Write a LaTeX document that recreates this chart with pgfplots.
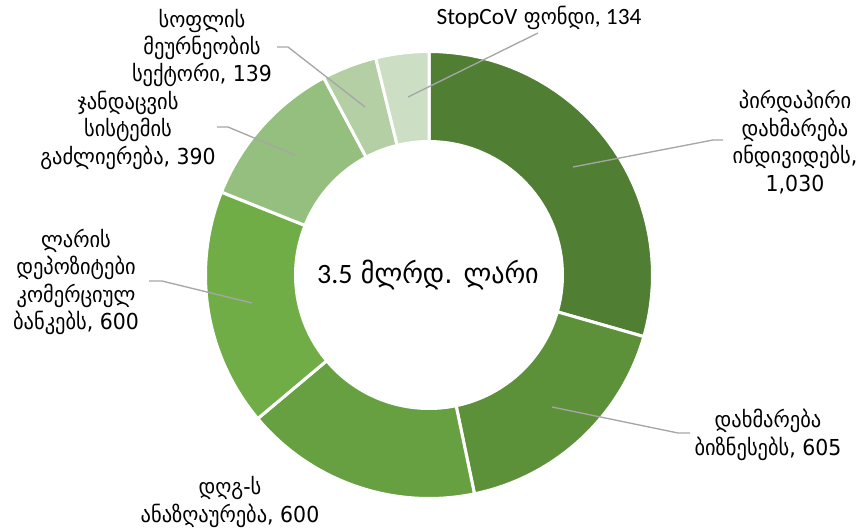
\documentclass[border=0pt]{standalone}
\usepackage{pgfplots}
\pgfplotsset{compat=1.18}
\usepackage{fontspec}
\setmainfont[FakeStretch=0.93]{DejaVu Sans}
\newfontfamily\carl{Carlito}
\definecolor{c1}{HTML}{507E32}
\definecolor{c2}{HTML}{5C913A}
\definecolor{c3}{HTML}{66A040}
\definecolor{c4}{HTML}{70AD47}
\definecolor{c5}{HTML}{95BF7E}
\definecolor{c6}{HTML}{B4CFA3}
\definecolor{c7}{HTML}{CCDEC3}
\definecolor{lead}{HTML}{A6A6A6}
% slice: #1 = cumulative start value, #2 = value, #3 = colour
\newcommand\slice[3]{%
  \addplot[fill=#3, draw=white, line width=2.25pt, variable=\t,
    samples at={0,0.025,...,1,2,2.025,...,3,3.5}]
   ({429+rr(\t)*cos(90-360*(#1+#2*fr(\t))/3498)},
    {275-rr(\t)*sin(90-360*(#1+#2*fr(\t))/3498)}) -- cycle;}
\begin{document}
\begin{tikzpicture}[lbl/.style={align=center, font=\fontsize{16.5}{20.6}\selectfont, text=black, inner sep=0pt}]
\begin{axis}[
  scale only axis, width=648pt, height=396.75pt,
  xmin=0, xmax=864, ymin=0, ymax=529, y dir=reverse,
  hide axis, clip=false,
  declare function={fr(\t)=(\t<1.5)*\t+(\t>1.5)*(\t<3.2)*(3-\t);
                    rr(\t)=133.5+90*((\t<1.5)+(\t>3.2));},
]
\slice{0}{1030}{c1}
\slice{1030}{605}{c2}
\slice{1635}{600}{c3}
\slice{2235}{600}{c4}
\slice{2835}{390}{c5}
\slice{3225}{139}{c6}
\slice{3364}{134}{c7}
% leader lines
\addplot[lead, line width=1pt] coordinates {(573,167)(713,140)(723,140)};
\addplot[lead, line width=1pt] coordinates {(552,407)(678,433)(690,433)};
\addplot[lead, line width=1pt] coordinates {(252,303)(162,281)(149,281)};
\addplot[lead, line width=1pt] coordinates {(295,155)(228,127)(217,127)};
\addplot[lead, line width=1pt] coordinates {(365,107)(288,47)(277,47)};
\addplot[lead, line width=1pt] coordinates {(408,97)(538,33)};
% labels
\node[lbl] at (axis cs:795,142) {პირდაპირი\\დახმარება\\ინდივიდებს,\\1,030};
\node[lbl] at (axis cs:768,435) {დახმარება\\ბიზნესებს, 605};
\node[lbl] at (axis cs:230,502) {დღგ-ს\\ანაზღაურება, 600};
\node[lbl] at (axis cs:76,282) {ლარის\\დეპოზიტები\\კომერციულ\\ბანკებს, 600};
\node[lbl] at (axis cs:128,130) {ჯანდაცვის\\სისტემის\\გაძლიერება, 390};
\node[lbl] at (axis cs:202,48) {სოფლის\\მეურნეობის\\სექტორი, 139};
\node[lbl] at (axis cs:539,18) {{\carl\fontsize{17.5}{20.6}\selectfont StopCoV} ფონდი{\carl\fontsize{17.5}{20.6}\selectfont , 134}};
\node[lbl, font=\fontsize{21}{24}\selectfont] at (axis cs:428,275) {{\carl 3.5} მლრდ. ლარი};
\end{axis}
\pgfresetboundingbox
\path[use as bounding box] (current axis.south west) rectangle (current axis.north east);
\end{tikzpicture}
\end{document}
